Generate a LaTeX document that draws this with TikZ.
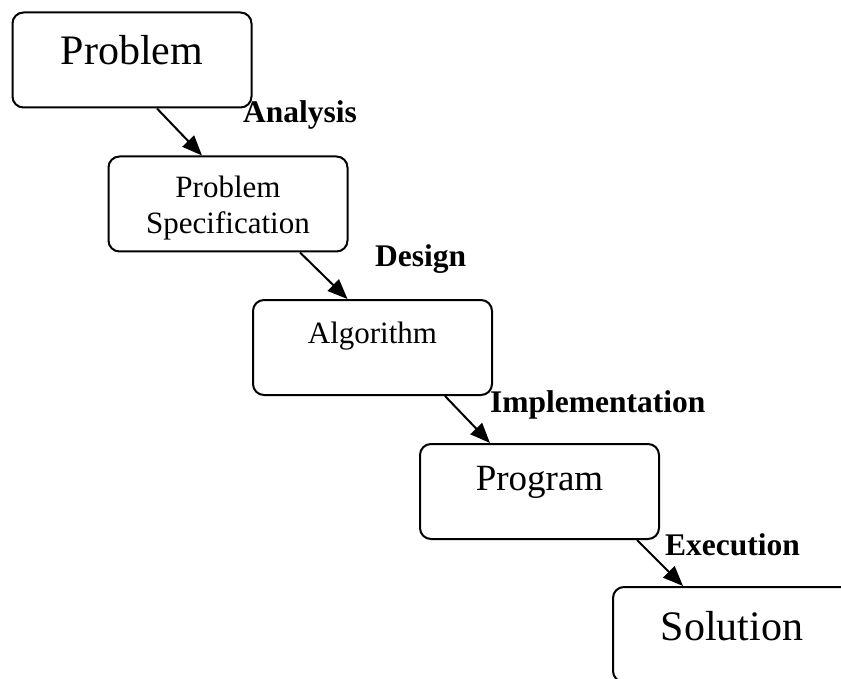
\documentclass[tikz,border=0pt]{standalone}
\usepackage{fontspec}
\setmainfont{Liberation Serif}
\usetikzlibrary{arrows.meta}
\begin{document}
\begin{tikzpicture}[x=1pt,y=-1pt,
  stagebox/.style={draw=black,line width=2pt,rounded corners=11pt,inner sep=0pt,minimum width=239pt,minimum height=95pt},
  boxtext/.style={anchor=base,inner sep=0pt},
  steplabel/.style={anchor=base west,inner sep=0pt,font=\fontsize{31.5}{34}\selectfont\bfseries},
  flow/.style={line width=2pt,-{Triangle[length=20pt,width=16pt]}}]
\useasboundingbox (0,0) rectangle (841,679);
\begin{scope}
\clip (0,0) rectangle (841,679);
\node[stagebox] (b1) at (132,60) {};
\node[stagebox] (b2) at (228,204) {};
\node[stagebox] (b3) at (372.5,347.5) {};
\node[stagebox] (b4) at (539.5,491.5) {};
\node[stagebox] (b5) at (732.5,634.5) {};
\end{scope}
\node[boxtext,font=\fontsize{42}{46}\selectfont] (t1) at (132,65) {Problem};
\node[boxtext,font=\fontsize{31}{36}\selectfont] (t2a) at (228,198) {Problem};
\node[boxtext,font=\fontsize{31}{36}\selectfont] (t2b) at (228,234) {Specification};
\node[boxtext,font=\fontsize{31}{36}\selectfont] (t3) at (372.5,343) {Algorithm};
\node[boxtext,font=\fontsize{37}{40}\selectfont] (t4) at (539.5,490) {Program};
\node[boxtext,font=\fontsize{42}{46}\selectfont] (t5) at (732,640) {Solution};
\node[steplabel] (l1) at (243,123) {Analysis};
\node[steplabel] (l2) at (375,267) {Design};
\node[steplabel] (l3) at (490,412) {Implementation};
\node[steplabel] (l4) at (665,555) {Execution};
\draw[flow] ([xshift=25pt]b1.south) -- ([xshift=-26pt]b2.north);
\draw[flow] ([xshift=72pt]b2.south) -- ([xshift=-25pt]b3.north);
\draw[flow] ([xshift=72.5pt]b3.south) -- ([xshift=-49.5pt]b4.north);
\draw[flow] ([xshift=97.5pt]b4.south) -- ([xshift=-49.5pt]b5.north);
\end{tikzpicture}
\end{document}
